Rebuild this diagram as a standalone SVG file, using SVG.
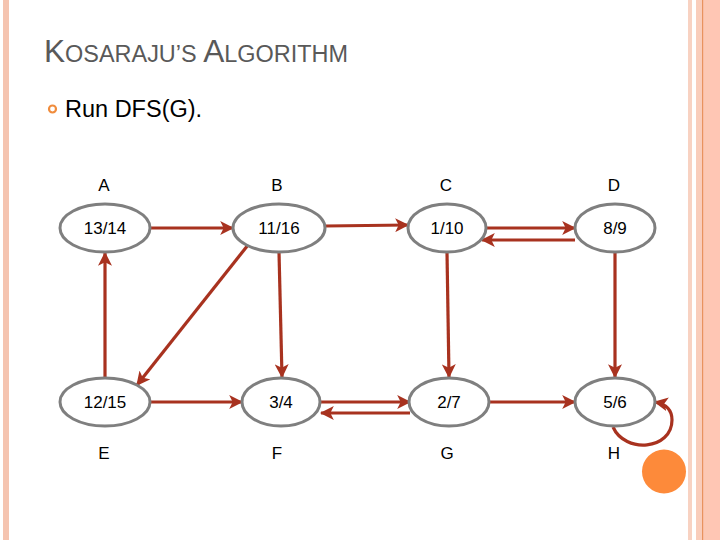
<svg xmlns="http://www.w3.org/2000/svg" width="720" height="540" viewBox="0 0 720 540">
<style>
.node ellipse{fill:#fff;stroke:#7f7f7f;stroke-width:3}
.node text{font-family:"Liberation Sans",Arial,sans-serif;font-size:17px;fill:#000;text-anchor:middle}
.lbl{font-family:"Liberation Sans",Arial,sans-serif;font-size:17px;fill:#000;text-anchor:middle}
.edges path{fill:none;stroke:#a8321f;stroke-width:3.2;marker-end:url(#arr)}
.title{font-family:"Liberation Sans",Arial,sans-serif;fill:#595959}
</style>
<defs>
<marker id="arr" viewBox="0 0 12 12" markerUnits="userSpaceOnUse" markerWidth="14" markerHeight="14" refX="11" refY="6" orient="auto">
<path d="M0,0 L12,6 L0,12 L3,6 z" fill="#a8321f"/>
</marker>
</defs>
<rect width="720" height="540" fill="#fff"/>
<g id="frame">
<rect x="3" y="0" width="6" height="540" fill="#f5c4b0"/>
<rect x="688" y="0" width="4" height="540" fill="#f8d2c2"/>
<rect x="696" y="0" width="24" height="540" fill="#fcc8b4"/>
<rect x="696" y="0" width="6" height="540" fill="#f9cdbb"/>
<rect x="702" y="0" width="1.2" height="540" fill="#e8935f"/>
<rect x="710" y="0" width="10" height="540" fill="#ffc6b4"/>
</g>
<g id="title">
<text class="title" x="44" y="62" textLength="304" lengthAdjust="spacingAndGlyphs"><tspan font-size="31">K</tspan><tspan font-size="23">OSARAJU’S </tspan><tspan font-size="31">A</tspan><tspan font-size="23">LGORITHM</tspan></text>
</g>
<g id="bullet">
<circle cx="52.5" cy="109" r="3.5" fill="none" stroke="#f08c3c" stroke-width="2.2"/>
<text x="65" y="117" font-family="Liberation Sans,Arial,sans-serif" font-size="23.5" fill="#000">Run DFS(G).</text>
</g>
<g id="letters">
<text class="lbl" x="104" y="191">A</text>
<text class="lbl" x="277" y="191">B</text>
<text class="lbl" x="446" y="191">C</text>
<text class="lbl" x="614" y="191">D</text>
<text class="lbl" x="104" y="459">E</text>
<text class="lbl" x="277" y="459">F</text>
<text class="lbl" x="447" y="459">G</text>
<text class="lbl" x="614" y="459">H</text>
</g>
<g class="edges" id="edges">
<path d="M150,228 L233,228"/>
<path d="M325,226 L408,225"/>
<path d="M487,228 L575,228"/>
<path d="M575,240 L482,240"/>
<path d="M105,377 L105,253"/>
<path d="M248,245 L137,385"/>
<path d="M279,252 L282,377"/>
<path d="M447,252 L449,377"/>
<path d="M615,252 L615,377"/>
<path d="M150,402 L242,402"/>
<path d="M321,402 L410,402"/>
<path d="M410,413 L321,413"/>
<path d="M489,402 L575,402"/>
<path d="M613,427 C625,454 672,450 672,420 C672,410 666,404 655,402"/>
</g>
<g id="A" class="node"><ellipse cx="105" cy="228" rx="45" ry="24"/><text x="105" y="234">13/14</text></g>
<g id="B" class="node"><ellipse cx="279" cy="228" rx="46" ry="24"/><text x="279" y="234">11/16</text></g>
<g id="C" class="node"><ellipse cx="447" cy="228" rx="39" ry="24"/><text x="447" y="234">1/10</text></g>
<g id="D" class="node"><ellipse cx="615" cy="228" rx="40" ry="24"/><text x="615" y="234">8/9</text></g>
<g id="E" class="node"><ellipse cx="105" cy="402" rx="45" ry="24"/><text x="105" y="408">12/15</text></g>
<g id="F" class="node"><ellipse cx="281" cy="402" rx="39" ry="24"/><text x="281" y="408">3/4</text></g>
<g id="G" class="node"><ellipse cx="449" cy="402" rx="40" ry="24"/><text x="449" y="408">2/7</text></g>
<g id="H" class="node"><ellipse cx="615" cy="402" rx="40" ry="24"/><text x="615" y="408">5/6</text></g>
<circle id="dot" cx="664" cy="471.5" r="22" fill="#fd8a3a"/>
</svg>
